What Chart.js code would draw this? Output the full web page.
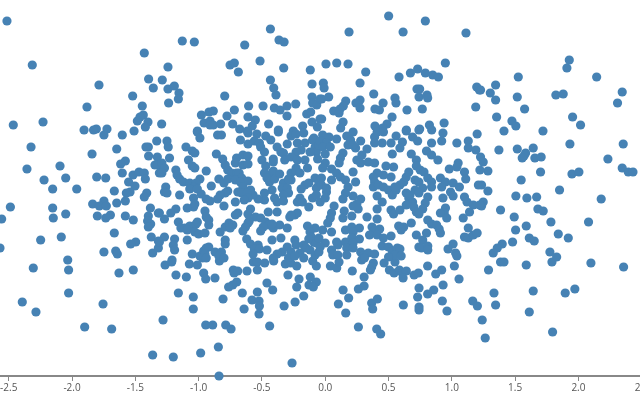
<!DOCTYPE html>
<html>
<head>
<meta charset="utf-8">
<script src="https://cdn.jsdelivr.net/npm/chart.js@4"></script>
<style>
  html, body { margin: 0; padding: 0; background: #fff; overflow: hidden; }
</style>
</head>
<body>
<canvas id="scatter" width="680" height="400"></canvas>
<script>
const tickValues = [-2.5, -2, -1.5, -1, -0.5, 0, 0.5, 1, 1.5, 2, 2.5];

// sparse outer points
const xOuter = [
  -2.514,-2.314,-1.429,-1.395,-1.358,-1.787,-1.521,-1.882,-1.445,-1.437,
  -1.463,-1.484,-1.400,-1.421,-2.464,-2.229,-1.905,-1.808,-1.830,-1.724,-1.510,
  -1.129,-1.034,-0.636,-0.433,-0.365,-0.325,-0.515,-0.752,-0.718,-0.686,
  -0.328,-0.118,-1.242,-1.287,-1.242,-1.192,-1.155,-1.160,-1.237,-0.433,
  -0.407,-0.389,-0.104,-0.104,-0.099,-0.067,-0.041,-0.794,-0.605,-0.491,
  -0.718,-0.402,-0.357,-0.302,-0.233,-0.302,-0.146,-0.115,-0.978,-0.918,
  -0.884,-0.776,-0.610,-0.552,-0.957,-0.910,-0.910,-0.884,-0.826,-0.731,
  -0.447,-0.104,-0.041,-1.292,-0.178,-0.576,-0.676,-1.010,-0.370,-0.252,-0.062,-0.615,
  0.501,0.791,0.188,0.615,1.112,0.006,0.091,0.180,0.949,0.320,
  0.583,0.673,0.730,0.791,0.849,0.894,0.275,-0.015,-0.009,1.197,
  1.218,0.725,0.746,0.741,0.804,0.809,0.383,0.551,0.559,-0.028,
  0.027,0.162,0.275,0.243,0.457,0.143,0.117,0.067,0.109,0.275,
  0.393,0.428,0.646,0.767,1.189,0.528,-0.028,0.141,0.122,0.393,
  0.488,0.454,0.939,0.823,0.746,0.641,0.841,
  1.928,1.909,1.525,2.144,1.346,1.304,1.227,1.346,1.517,1.822,
  1.880,2.346,2.309,1.575,1.354,1.475,1.506,1.954,2.017,1.412,1.720
];
const yOuter = [
  1.67,1.23,1.35,1.09,1.00,1.03,0.92,0.81,0.82,0.73,
  0.71,0.67,0.66,0.61,0.63,0.66,0.58,0.59,0.58,0.59,0.57,
  1.47,1.46,1.43,1.59,1.48,1.46,1.27,1.23,1.25,1.16,
  1.20,1.18,1.21,1.08,0.99,1.02,0.95,0.89,0.85,1.08,
  1.00,0.93,1.04,0.91,0.85,0.83,0.89,0.92,0.82,0.82,
  0.78,0.80,0.78,0.82,0.84,0.72,0.74,0.76,0.73,0.76,
  0.77,0.72,0.71,0.68,0.65,0.67,0.63,0.63,0.64,0.64,
  0.64,0.66,0.69,0.64,0.62,0.62,0.59,0.57,0.58,0.57,0.61,0.57,
  1.72,1.67,1.56,1.56,1.55,1.24,1.25,1.24,1.25,1.16,
  1.11,1.15,1.19,1.15,1.13,1.11,1.05,1.05,1.00,1.01,
  0.98,0.99,0.99,0.91,0.93,0.90,0.94,0.90,0.85,0.89,
  0.91,0.87,0.88,0.85,0.85,0.82,0.79,0.77,0.75,0.80,
  0.79,0.78,0.78,0.79,0.81,0.71,0.69,0.66,0.60,0.62,
  0.64,0.60,0.65,0.63,0.59,0.58,0.58,
  1.28,1.20,1.11,1.11,1.03,0.95,0.98,0.88,0.91,0.93,
  0.94,0.96,0.85,0.79,0.71,0.67,0.62,0.71,0.63,0.57,0.57
];

const xLeft = [
  -2.324,-2.356,-2.095,-2.221,-2.050,-2.153,-1.963,-1.842,-1.647,-1.603,
  -1.748,-1.397,-1.416,-1.331,-1.395,-1.326,-1.579,-1.616,-1.345,-1.318,
  -1.603,-1.805,-1.734,-1.518,-1.471,-1.429,-1.421,-1.553,-1.310,-1.503,
  -1.666,-1.542,-1.571,-1.410,-1.429,-1.579,-1.647,-1.748,-1.837,-1.784,
  -1.729,-2.487,-2.153,-2.556,-2.148,-2.050,-1.800,-1.697,-1.734,-1.579,
  -1.516,-1.381,-1.318,-1.397,-1.403,-1.379,-1.397,-1.666,-2.248,-2.085,
  -1.374,-1.318,-1.497,-1.537,-2.569,-1.748,-1.655,-1.642,-1.363,-1.318,-2.034,
  -2.306,-2.027,-1.629,-1.516,-2.027,-2.393,-2.285,-1.755,-1.900,-1.687,-1.363
];
const yLeft = [
  0.41,0.19,0.22,0.08,0.10,-0.01,-0.01,0.34,0.39,0.53,
  0.53,0.41,0.41,0.47,0.32,0.31,0.27,0.24,0.23,0.23,
  0.15,0.11,0.10,0.13,0.16,0.15,0.09,0.06,0.15,0.02,
  -0.03,-0.04,-0.05,-0.05,-0.09,-0.13,-0.15,-0.13,-0.16,-0.18,
  -0.18,-0.19,-0.20,-0.31,-0.30,-0.26,-0.28,-0.27,-0.30,-0.28,
  -0.32,-0.20,-0.25,-0.28,-0.33,-0.36,-0.39,-0.45,-0.52,-0.49,
  -0.49,-0.53,-0.54,-0.56,-0.60,-0.64,-0.63,-0.66,-0.65,-0.60,-0.72,
  -0.80,-0.82,-0.85,-0.82,-1.05,-1.14,-1.24,-1.16,-1.39,-1.41,-1.67
];

const xBottom = [
  -1.265,-1.213,-1.073,-1.010,-0.836,-1.179,-1.097,-0.960,-0.944,-0.871,
  -0.726,-0.720,-0.691,-0.618,-0.568,-0.536,-0.536,-0.478,-0.407,-0.315,
  -0.273,-0.225,-0.294,-0.207,-0.118,-0.070,-0.099,-0.070,-0.128,-0.094,
  -0.225,-0.460,-0.415,-0.699,-0.731,-0.763,-0.536,-0.655,-1.160,-1.042,
  -1.042,-0.807,-0.578,-0.523,-0.520,-0.641,-0.523,-0.325,-0.238,-0.170,
  -1.281,-0.944,-0.889,-0.786,-0.744,-0.439,-0.844,-1.200,-0.984,-0.262,-0.839,
  0.041,0.091,0.109,0.214,0.288,0.380,0.367,0.357,0.307,0.307,
  0.262,0.141,0.185,0.104,0.162,0.367,0.412,0.375,0.262,0.407,
  0.438,0.465,0.507,0.544,0.551,0.586,0.609,0.641,0.615,0.702,
  0.736,0.809,0.873,0.920,1.020,1.057,0.931,0.741,0.857,0.809,
  0.730,0.617,0.741,0.741,0.925,0.962,1.165,1.202,
  1.385,1.412,1.588,1.791,2.099,2.357,1.290,1.333,1.643,1.896,
  1.972,1.346,1.612,1.240,1.796,1.264
];
const yBottom = [
  -0.77,-0.74,-0.76,-0.77,-0.73,-0.87,-0.89,-0.85,-0.91,-0.90,
  -0.82,-0.85,-0.83,-0.83,-0.74,-0.74,-0.82,-0.75,-0.73,-0.76,
  -0.75,-0.78,-0.87,-0.91,-0.89,-0.78,-0.73,-0.94,-0.97,-0.99,
  -0.99,-0.95,-1.02,-0.94,-0.97,-0.99,-1.04,-1.05,-1.05,-1.09,
  -1.21,-1.11,-1.12,-1.13,-1.18,-1.21,-1.26,-1.18,-1.14,-1.08,
  -1.32,-1.37,-1.37,-1.37,-1.41,-1.38,-1.59,-1.69,-1.65,-1.75,-1.88,
  -0.78,-0.80,-0.74,-0.83,-0.72,-0.75,-0.79,-0.82,-0.89,-0.98,
  -1.01,-1.02,-1.10,-1.16,-1.25,-1.15,-1.11,-1.21,-1.39,-1.41,
  -1.46,-0.75,-0.82,-0.85,-0.74,-0.82,-0.85,-0.83,-0.90,-0.87,
  -0.85,-0.78,-0.86,-0.82,-0.78,-0.91,-0.97,-1.00,-1.02,-1.06,
  -1.09,-1.17,-1.19,-1.22,-1.13,-1.23,-1.13,-1.18,
  -0.74,-0.74,-0.77,-0.74,-0.75,-0.79,-0.82,-1.05,-1.03,-1.05,
  -1.01,-1.17,-1.24,-1.32,-1.44,-1.50
];

const xRight = [
  1.933,2.354,1.372,1.517,1.643,1.583,1.570,1.556,1.656,1.706,
  2.233,1.227,1.248,1.285,1.222,1.701,2.346,2.394,2.431,1.949,
  2.004,1.548,1.235,1.285,1.851,1.506,1.593,1.670,2.180,1.248,
  1.235,1.385,1.680,1.722,1.493,1.783,2.080,1.588,1.504,1.841,
  1.920,1.612,1.651,1.480,1.398,1.359,1.327,1.775,1.828
];
const yRight = [
  0.44,0.44,0.38,0.39,0.40,0.35,0.32,0.30,0.30,0.31,
  0.29,0.31,0.26,0.17,0.18,0.16,0.20,0.16,0.16,0.14,
  0.16,0.08,0.03,-0.03,-0.02,-0.08,-0.10,-0.09,-0.11,-0.14,
  -0.18,-0.22,-0.21,-0.23,-0.29,-0.34,-0.34,-0.38,-0.42,-0.46,
  -0.50,-0.50,-0.53,-0.54,-0.56,-0.60,-0.65,-0.64,-0.69
];

// dense middle, left of zero
const xMidLeft = [
  -1.01,-0.99,-0.85,-0.82,-0.67,-0.61,-0.54,-0.61,-0.56,-0.52,
  -0.51,-0.47,-0.43,-0.37,-0.38,-0.30,-0.35,-0.33,-0.32,-0.27,
  -0.23,-0.17,-0.09,-0.22,-0.16,-0.08,-0.07,-0.12,-0.19,-0.23,
  -0.27,-0.22,-0.16,-0.23,-0.14,-0.06,-0.10,-0.05,-0.48,-0.50,
  -0.47,-0.41,-0.41,-1.25,-1.24,-1.10,-1.05,-1.03,-0.86,-1.23,
  -1.08,-1.05,-1.03,-1.29,-1.27,-1.29,-0.81,-0.79,-0.70,-0.65,
  -0.61,-0.71,-0.65,-0.61,-0.77,-0.74,-0.94,-1.18,-1.17,-1.15,
  -1.12,-1.07,-0.99,-1.02,-1.04,-1.07,-1.01,-0.90,-0.98,-1.26,
  -1.27,-1.25,-1.15,-0.84,-0.80,-0.77,-0.70,-0.68,-0.66,-0.71,
  -0.61,-0.67,-0.48,-0.41,-0.42,-0.46,-0.44,-0.40,-0.36,-0.33,
  -0.34,-0.27,-0.27,-0.23,-0.20,-0.29,-0.16,-0.19,-0.13,-0.08,
  -0.05,-0.07,-0.42,-0.30,-0.29,-0.33,-0.40,-0.38,-0.33,-0.48,
  -0.48,-0.53,-0.57,-0.59,-0.65,-0.69,-0.66,-0.62,-0.61,-0.64,
  -0.71,-0.77,-0.79,-0.83,-0.85,-0.80,-0.94,-0.91,-1.04,-1.03,
  -1.04,-1.09,-1.18,-1.22,-1.27,-1.31,-0.22,-0.20,-0.18,-0.13,
  -0.10,-0.07,-0.04,-0.45,-0.38,-0.69,-0.71,-0.59,-0.61,-0.55,
  -0.95,-0.94,-0.92,-0.92,-1.16,-1.14,-1.11,-1.07,-1.02,-1.01,
  -1.09,-1.03,-1.00,-0.95,-0.83,-0.79,-0.76,-0.73,-0.75,-0.61,
  -0.60,-0.63,-0.65,-0.51,-0.47,-0.45,-0.49,-0.51,-0.41,-0.36,
  -0.30,-0.42,-0.28,-0.24,-0.22,-0.27,-0.14,-0.08,-0.12,-0.11,
  -0.09,-0.13,-1.27,-1.31,-1.19,-1.20,-1.19,-1.09,-0.79,-0.79,
  -0.62,-0.59,-0.53,-0.56,-0.52,-0.57,-0.42,-0.35,-0.24,-0.46,
  -1.05,-0.99,-0.96,-0.94,-0.92,-0.95,-0.97,-0.94,-0.87,-0.82,
  -0.84,-0.80,-1.21,-0.30,-0.34,-0.38,-0.41,-0.27,-0.23,-0.17,
  -0.15,-0.20,-0.29,-0.24,-0.12,-0.07,-0.05,-0.08,-0.17,-0.05
];
const yMidLeft = [
  0.56,0.50,0.53,0.53,0.48,0.55,0.54,0.44,0.47,0.45,
  0.41,0.52,0.48,0.56,0.41,0.44,0.36,0.35,0.28,0.52,
  0.54,0.55,0.50,0.45,0.45,0.41,0.36,0.36,0.38,0.36,
  0.31,0.28,0.28,0.20,0.20,0.29,0.48,0.43,0.36,0.28,
  0.22,0.29,0.26,0.47,0.41,0.41,0.37,0.35,0.34,0.30,
  0.28,0.22,0.20,0.25,0.20,0.15,0.29,0.23,0.30,0.33,
  0.32,0.25,0.23,0.24,0.18,0.15,0.17,0.18,0.13,0.09,
  0.06,0.05,0.09,0.05,0.01,-0.01,-0.01,0.02,-0.06,0.01,
  -0.04,-0.05,-0.07,0.09,0.05,0.09,0.15,0.15,0.10,0.08,
  0.07,0.06,0.15,0.17,0.15,0.10,0.06,0.09,0.14,0.05,
  0,0.15,0.08,0.17,0.15,0.09,0.03,-0.01,0.05,0.10,
  0.05,0,-0.02,0,-0.05,-0.07,-0.10,-0.14,-0.13,-0.05,
  -0.12,-0.11,-0.07,-0.02,0.01,-0.04,-0.05,-0.05,-0.10,-0.12,
  -0.14,-0.03,-0.05,-0.07,-0.11,-0.18,-0.11,-0.13,-0.10,-0.16,
  -0.19,-0.20,-0.21,-0.25,-0.31,-0.25,-0.14,-0.10,-0.14,-0.19,
  -0.10,-0.07,-0.14,-0.24,-0.24,-0.25,-0.27,-0.21,-0.26,-0.29,
  -0.23,-0.29,-0.32,-0.37,-0.34,-0.40,-0.40,-0.38,-0.36,-0.34,
  -0.42,-0.44,-0.46,-0.45,-0.44,-0.39,-0.35,-0.37,-0.40,-0.35,
  -0.33,-0.39,-0.43,-0.30,-0.34,-0.37,-0.39,-0.43,-0.40,-0.37,
  -0.40,-0.36,-0.29,-0.27,-0.25,-0.27,-0.38,-0.40,-0.44,-0.49,
  -0.54,-0.51,-0.49,-0.54,-0.51,-0.57,-0.62,-0.52,-0.52,-0.56,
  -0.51,-0.56,-0.57,-0.61,-0.61,-0.66,-0.52,-0.50,-0.52,-0.62,
  -0.66,-0.68,-0.63,-0.60,-0.59,-0.66,-0.70,-0.70,-0.64,-0.64,
  -0.68,-0.70,-0.72,-0.59,-0.64,-0.66,-0.70,-0.64,-0.57,-0.57,
  -0.60,-0.65,-0.70,-0.68,-0.62,-0.55,-0.50,-0.67,-0.70,-0.64
];

// dense middle, right of zero
const xMidRight = [
  -0.02,0.03,0.09,-0.04,0.01,-0.02,0.04,0,0.22,0.17,
  0.20,0.18,0.24,0.28,0.22,0.33,0.29,0.25,0.28,0.14,
  0.12,0.11,0,-0.02,0.39,0.41,0.46,0.56,0.52,0.39,
  0.45,0.61,0.59,0.53,0.64,0.74,0.93,0.69,0.73,0.84,
  0.92,1.04,1.20,1.13,1.13,1.19,0.68,0.80,0.84,0.89,
  0.72,0.72,0.75,0.78,0.34,0.39,0.48,0.54,0.52,0.46,
  0.41,0.05,0.09,0.05,0.12,0.16,0.22,0.24,0.18,0.16,
  0.14,0.01,0,-0.03,-0.03,0.01,0.38,0.39,0.38,0.42,
  0.46,0.50,0.53,0.56,0.59,0.62,0.64,0.66,0.71,0.74,
  0.55,0.98,1.05,1.04,1.10,1.11,1.21,0.81,0.84,0.91,
  0.95,1.01,1.06,0.92,0.99,1.01,0.77,0.84,0.71,0.74,
  0.41,0.45,0.22,0.28,0.25,0.22,0.26,0.64,0.66,0.69,
  0.67,0.70,0.72,0.81,0.79,0.77,0.74,0.93,1.10,1.12,
  1.17,1.14,1.22,0.07,0.05,0.04,0.02,0.15,0.14,0.21,
  0.33,0.41,0.41,0.52,0.54,0.59,0.64,0.68,0.95,0.94,
  0.91,0.96,1.09,0.81,0.84,0.88,0.90,0.91,1.13,-0.02,
  0.05,0.16,0.21,0.27,0.22,0.37,0.39,0.43,0.35,0.41,
  0.46,0.52,0.58,0.62,0.60,0.72,0.80,0.77,0.74,0.76,
  0.81,0.81,1.10,1.13,1.17,1.20,1.01,0.97,0,-0.04,
  0.09,0.10,0.16,0.21,0.27,0.22,0.17,0.22,0.05,0.06,
  0.10,0.17,0.28,0.30,0.34,0.39,0.31,0.45,0.50,0.53,
  0.57,0.59,0.55,0.50,0.60,1.03,1.04
];
const yMidRight = [
  0.53,0.51,0.49,0.47,0.45,0.41,0.41,0.34,0.56,0.52,
  0.48,0.43,0.40,0.47,0.43,0.39,0.33,0.28,0.25,0.35,
  0.30,0.25,0.25,0.20,0.51,0.56,0.56,0.52,0.45,0.45,
  0.45,0.46,0.40,0.34,0.57,0.58,0.55,0.51,0.47,0.45,
  0.47,0.45,0.54,0.47,0.40,0.38,0.34,0.37,0.33,0.28,
  0.28,0.22,0.18,0.16,0.26,0.25,0.22,0.21,0.11,0.13,
  0.15,0.19,0.15,0.08,0.11,0.08,0.16,0.06,0.01,-0.05,
  -0.11,-0.04,-0.10,0.10,0.03,0,0.11,0.06,0.01,0.03,
  0.01,-0.02,-0.07,-0.02,0.03,0.06,0.11,0.16,0.08,0.06,
  0.01,0.19,0.25,0.21,0.16,0.09,0.03,0.10,0.06,0.10,
  0.06,0.05,0.01,0.01,-0.04,-0.08,0,0.01,-0.02,-0.05,
  -0.08,-0.14,-0.08,-0.11,-0.16,-0.18,-0.21,-0.05,-0.10,-0.14,
  -0.07,-0.19,-0.24,-0.09,-0.15,-0.21,-0.26,-0.10,-0.09,-0.14,
  -0.17,-0.24,-0.17,-0.18,-0.25,-0.30,-0.35,-0.23,-0.30,-0.28,
  -0.29,-0.21,-0.31,-0.22,-0.26,-0.22,-0.17,-0.35,-0.20,-0.25,
  -0.25,-0.30,-0.30,-0.32,-0.36,-0.37,-0.41,-0.45,-0.40,-0.42,
  -0.44,-0.42,-0.39,-0.40,-0.44,-0.39,-0.42,-0.41,-0.47,-0.47,
  -0.50,-0.48,-0.38,-0.39,-0.42,-0.47,-0.45,-0.52,-0.59,-0.60,
  -0.58,-0.62,-0.49,-0.50,-0.47,-0.45,-0.56,-0.61,-0.55,-0.59,
  -0.54,-0.57,-0.54,-0.50,-0.51,-0.55,-0.60,-0.60,-0.62,-0.67,
  -0.67,-0.67,-0.64,-0.68,-0.65,-0.66,-0.70,-0.58,-0.59,-0.63,
  -0.60,-0.61,-0.67,-0.69,-0.68,-0.65,-0.68
];

const xValues = [...xOuter, ...xLeft, ...xBottom, ...xRight, ...xMidLeft, ...xMidRight];
const yValues = [...yOuter, ...yLeft, ...yBottom, ...yRight, ...yMidLeft, ...yMidRight];
const points = xValues.map((x, i) => ({ x: x, y: yValues[i] }));

new Chart(document.getElementById('scatter'), {
  type: 'scatter',
  data: {
    datasets: [{
      data: points,
      backgroundColor: '#4682b4',
      borderWidth: 0,
      pointRadius: 4.6,
      clip: false
    }]
  },
  options: {
    responsive: false,
    animation: false,
    layout: { padding: 0, autoPadding: false },
    plugins: { legend: { display: false }, tooltip: { enabled: false } },
    scales: {
      x: {
        type: 'linear',
        min: -2.569,
        max: 2.8025,
        afterBuildTicks: scale => {
          scale.ticks = tickValues.map(v => ({ value: v }));
        },
        afterFit: scale => {
          scale.paddingLeft = 0;
          scale.paddingRight = 0;
          scale.height = 24;
        },
        border: { color: '#888', width: 2 },
        grid: { drawOnChartArea: false, drawTicks: true, tickLength: 5, color: '#888' },
        ticks: {
          autoSkip: false,
          maxRotation: 0,
          padding: 1,
          color: '#555',
          font: { family: '"Open Sans"', size: 10 },
          callback: v => v.toFixed(1)
        }
      },
      y: { display: false, min: -1.88, max: 1.88 }
    }
  }
});
</script>
</body>
</html>
